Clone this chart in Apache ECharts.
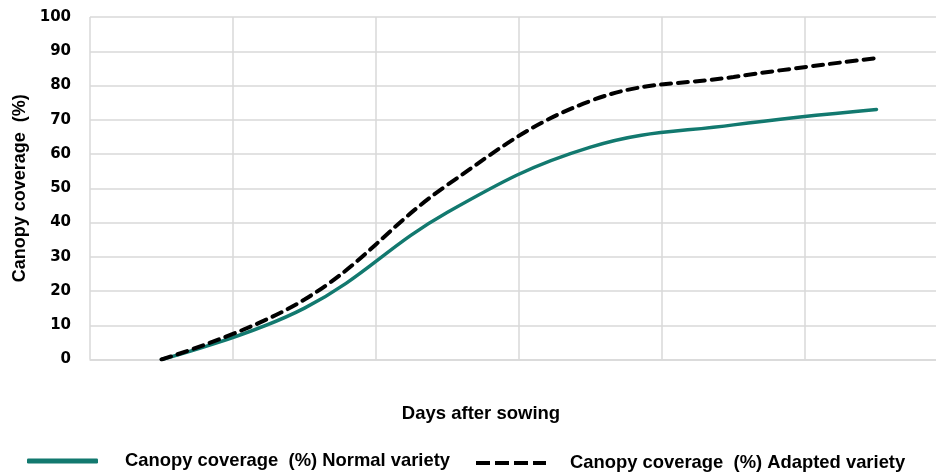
<!DOCTYPE html>
<html>
<head>
<meta charset="utf-8">
<script src="https://cdn.jsdelivr.net/npm/echarts@6/dist/echarts.min.js"></script>
<style>html,body{margin:0;padding:0;background:#fff}#c{width:936px;height:474px}</style>
</head>
<body>
<div id="c"></div>
<script>
const categories = ['1', '2', '3', '4', '5', '6'];
const normalVariety = [0, 15, 43, 62, 68.5, 73];
const adaptedVariety = [0, 17.5, 51, 75.5, 82.5, 88];
const yTicks = [0, 10, 20, 30, 40, 50, 60, 70, 80, 90, 100];

const nameNormal = 'Canopy coverage  (%) Normal variety';
const nameAdapted = 'Canopy coverage  (%) Adapted variety';
const gridColor = '#d9d9d9';
const labelFont = 'Liberation Sans, Arial, sans-serif';
const dashIcon = 'path://M0,0h14v4h-14z M19,0h14v4h-14z M38,0h14v4h-14z M57,0h13v4h-13z';

const chart = echarts.init(document.getElementById('c'), null, {renderer: 'canvas'});
chart.setOption({
  animation: false,
  backgroundColor: '#ffffff',
  title: {
    text: 'Days after sowing',
    left: 481, top: 404, textAlign: 'center', padding: 0,
    textStyle: {fontFamily: labelFont, fontWeight: 'bold', fontSize: 18.5, color: '#000'}
  },
  legend: [{
    data: [nameNormal],
    left: 27, top: 452, padding: 0,
    icon: 'roundRect',
    itemWidth: 71, itemHeight: 5,
    textStyle: {fontFamily: labelFont, fontWeight: 'bold', fontSize: 18.4, color: '#000', padding: [0, 0, 0, 22]}
  }, {
    data: [nameAdapted],
    left: 476, top: 454, padding: 0,
    icon: dashIcon,
    itemWidth: 70, itemHeight: 5,
    textStyle: {fontFamily: labelFont, fontWeight: 'bold', fontSize: 18.4, color: '#000', padding: [0, 0, 0, 19]}
  }],
  grid: {left: 90, top: 17, width: 858, height: 342.5, containLabel: false, outerBoundsMode: 'none'},
  xAxis: {
    type: 'category',
    data: categories,
    boundaryGap: true,
    axisLine: {show: true, lineStyle: {color: gridColor, width: 1.5}},
    axisTick: {show: false},
    axisLabel: {show: false},
    splitLine: {show: true, lineStyle: {color: gridColor, width: 1.5}}
  },
  yAxis: {
    type: 'value',
    min: yTicks[0], max: yTicks[yTicks.length - 1], interval: 10,
    name: 'Canopy coverage  (%)',
    nameLocation: 'middle',
    nameGap: 60,
    nameTextStyle: {fontFamily: labelFont, fontWeight: 'bold', fontSize: 18, color: '#000'},
    axisLine: {show: false},
    axisTick: {show: false},
    axisLabel: {margin: 19, fontFamily: 'DejaVu Sans, sans-serif', fontWeight: 'bold', fontSize: 15, color: '#000'},
    splitLine: {show: true, lineStyle: {color: gridColor, width: 1.5}}
  },
  series: [{
    name: nameNormal,
    type: 'line',
    data: normalVariety,
    smooth: 0.4,
    symbol: 'none',
    color: '#12796f',
    lineStyle: {color: '#12796f', width: 3.5, cap: 'round'}
  }, {
    name: nameAdapted,
    type: 'line',
    data: adaptedVariety,
    smooth: 0.4,
    symbol: 'none',
    color: '#000',
    lineStyle: {color: '#000', width: 4, type: [10, 7], cap: 'round'}
  }]
});
</script>
</body>
</html>
